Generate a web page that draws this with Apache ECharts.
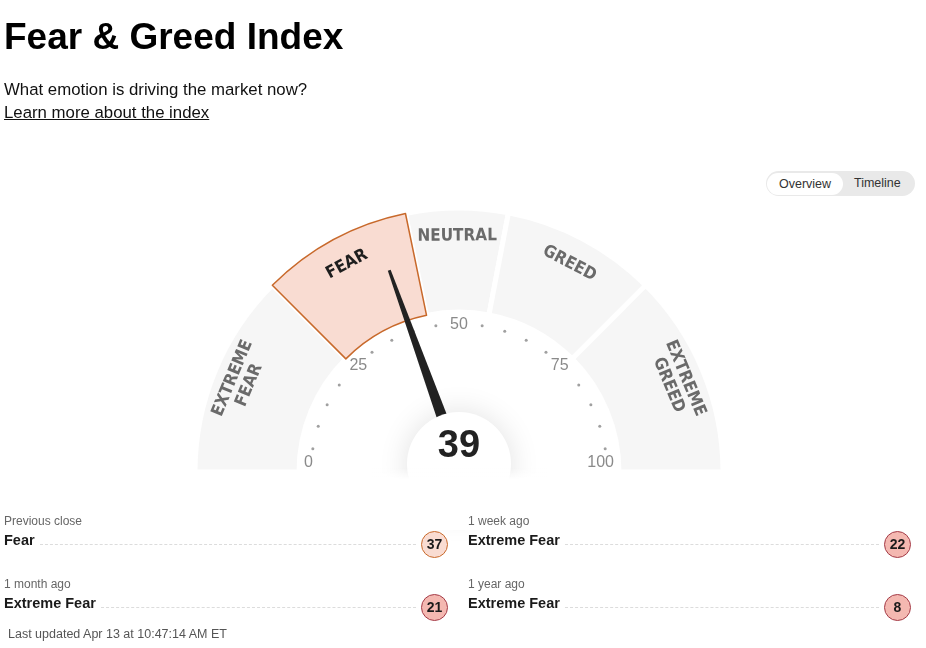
<!DOCTYPE html>
<html><head><meta charset="UTF-8">
<title>Fear & Greed Index</title>
<script src="https://cdn.jsdelivr.net/npm/echarts@6/dist/echarts.min.js"></script>
<style>
  body { margin: 0; background: #fff; font-family: "Liberation Sans", Arial, sans-serif; color: #111; }
  #page { position: relative; width: 926px; height: 648px; overflow: hidden; }
  #g1 { position: absolute; left: 0; top: 0; width: 926px; height: 648px; z-index: 0; }
  #fade { position: absolute; z-index: 1; left: 372px; top: 468px; width: 176px; height: 62px;
          background: linear-gradient(to bottom, rgba(255,255,255,0) 0px, #fff 12px, #fff 100%); }
  .txt { position: absolute; z-index: 2; white-space: nowrap; }
  #title { left: 4px; top: 18px; font-size: 37px; line-height: 37px; font-weight: bold; color: #000; }
  #sub { left: 4px; top: 81px; font-size: 16.8px; line-height: 17px; color: #111; }
  #link { left: 4px; top: 104px; font-size: 16.8px; line-height: 17px; color: #111; text-decoration: underline; }
  #toggle { left: 766px; top: 171px; width: 149px; height: 25px; border-radius: 13px; background: #e9e9e9; font-size: 12.5px; color: #333; }
  #toggle .on { position: absolute; left: 1px; top: 1.5px; width: 76px; height: 22px; border-radius: 11px; background: #fff; line-height: 22px; text-align: center; }
  #toggle .off { position: absolute; left: 88px; top: 0; line-height: 25px; }
  .cell { position: absolute; z-index: 2; width: 444px; height: 50px; }
  .cell .per { font-size: 12px; line-height: 16px; color: #666; height: 18px; }
  .cell .row { display: flex; align-items: flex-start; height: 27px; }
  .cell .rate { font-size: 14.5px; line-height: 18px; font-weight: bold; color: #1a1a1a; }
  .cell .fill { flex: 1; height: 13px; border-bottom: 1px dashed #dcdcdc; margin: 0 5px 0 5px; }
  .cell .badge { width: 27px; height: 27px; box-sizing: border-box; border-radius: 50%; border: 1px solid; text-align: center; line-height: 25px; font-size: 14px; font-weight: bold; color: #1a1a1a; }
  #upd { left: 8px; top: 626px; font-size: 12.5px; line-height: 16px; color: #555; }
</style>
</head>
<body>
<div id="page">
  <div id="g1"></div>
  <div id="fade"></div>
  <div class="txt" id="title">Fear &amp; Greed Index</div>
  <div class="txt" id="sub">What emotion is driving the market now?</div>
  <div class="txt" id="link">Learn more about the index</div>
  <div class="txt" id="toggle"><div class="on">Overview</div><div class="off">Timeline</div></div>
  <div class="txt" id="upd">Last updated Apr 13 at 10:47:14 AM ET</div>
</div>
<script type="text/javascript">
// zones of the index (boundaries)
var zoneNames = ['EXTREME\nFEAR', 'FEAR', 'NEUTRAL', 'GREED', 'EXTREME\nGREED'];
var zoneRatings = ['Extreme Fear', 'Fear', 'Neutral', 'Greed', 'Extreme Greed'];
var zoneBounds = [0, 25, 43.5, 56, 75, 100];
var currentValue = 39;

// scale labels and the small dots between them
var scaleLabels = [0, 25, 50, 75, 100];
var dotValues = [5, 10, 15, 20, 30, 35, 40, 45, 55, 60, 65, 70, 80, 85, 90, 95];

// history rows
var historyPeriods = ['Previous close', '1 week ago', '1 month ago', '1 year ago'];
var historyValues = [37, 22, 21, 8];

var badgeFill = ['#f4b8b1', '#f9dcd2', '#eeeeee', '#d6ecd9', '#b9e0c2'];
var badgeLine = ['#a33a46', '#c8692b', '#999999', '#4b8a5a', '#2d6b3c'];

function zoneOf(v) {
    for (var i = 0; i < zoneNames.length; i++) {
        if (v < zoneBounds[i + 1]) return i;
    }
    return zoneNames.length - 1;
}
var active = zoneOf(currentValue);

// history cells
var page = document.getElementById('page');
historyPeriods.forEach(function (p, i) {
    var z = zoneOf(historyValues[i]);
    var cell = document.createElement('div');
    cell.className = 'cell';
    cell.style.left = (i % 2 == 0 ? 4 : 468) + 'px';
    cell.style.top = (i < 2 ? 513 : 576) + 'px';
    if (i % 2 == 1) cell.style.width = '443px';
    cell.innerHTML = '<div class="per">' + p + '</div><div class="row"><span class="rate">' + zoneRatings[z] +
        '</span><span class="fill"></span><span class="badge" style="background:' + badgeFill[z] +
        ';border-color:' + badgeLine[z] + '">' + historyValues[i] + '</span></div>';
    page.appendChild(cell);
});

var widths = [];
for (var i = 0; i < zoneNames.length; i++) widths.push(zoneBounds[i + 1] - zoneBounds[i]);

var segData = widths.map(function (w, i) {
    return {
        value: w, name: zoneNames[i],
        itemStyle: i == active ? {color: 'transparent', borderWidth: 0}
                               : {color: '#f6f6f6', borderColor: '#fff', borderWidth: 5}
    };
});
segData.push({value: 100, name: 'rest', itemStyle: {color: 'transparent', borderWidth: 0}});

var hiData = widths.map(function (w, i) {
    return {
        value: w, name: zoneNames[i],
        itemStyle: i == active ? {color: '#f9dcd2', borderColor: '#c8692b', borderWidth: 1.5}
                               : {color: 'transparent', borderWidth: 0}
    };
});
hiData.push({value: 100, name: 'rest', itemStyle: {color: 'transparent', borderWidth: 0}});

var labData = widths.map(function (w, i) {
    return {
        value: w, name: zoneNames[i],
        label: {color: i == active ? '#1e1e1e' : '#6a6a6a'}
    };
});
labData.push({value: 100, name: 'rest', label: {show: false}});

var myChart = echarts.init(document.getElementById('g1'));
myChart.setOption({
    animation: false,
    polar: {center: [459, 472], radius: 262},
    angleAxis: {type: 'value', min: 0, max: 200, startAngle: 180, show: false},
    radiusAxis: {type: 'value', min: 0, max: 262, show: false},
    series: [
        {
            type: 'pie', silent: true, z: 1, center: [459, 472], radius: [160, 264],
            startAngle: 180, label: {show: false}, labelLine: {show: false},
            data: segData
        },
        {
            type: 'pie', silent: true, z: 1, center: [459, 472], radius: [160, 264],
            startAngle: 180, label: {show: false}, labelLine: {show: false},
            data: hiData
        },
        {
            type: 'pie', silent: true, z: 2, center: [459, 472], radius: [204, 262],
            startAngle: 180, itemStyle: {color: 'transparent'},
            labelLine: {show: false},
            label: {
                show: true, position: 'inside', rotate: 'tangential',
                formatter: '{b}', fontSize: 17, fontWeight: 'bold', lineHeight: 18,
                fontFamily: '"Liberation Sans Narrow", "DejaVu Sans Condensed", sans-serif'
            },
            data: labData
        },
        {
            type: 'scatter', coordinateSystem: 'polar', silent: true, z: 3,
            symbolSize: 3, itemStyle: {color: '#888'},
            data: dotValues.map(function (v) { return [148, v]; })
        },
        {
            // scale labels
            type: 'gauge', z: 3, silent: true, center: [459, 472], radius: 155,
            startAngle: 180, endAngle: 0, min: 0, max: 100, splitNumber: scaleLabels.length - 1,
            axisLine: {show: false, lineStyle: {width: 0}},
            splitLine: {show: false, length: 0, distance: 0},
            axisTick: {show: false},
            axisLabel: {
                distance: 0, color: '#8a8a8a', fontSize: 16, fontFamily: '"Liberation Sans", Arial',
                formatter: function (v) {
                    if (v == scaleLabels[0] || v == scaleLabels[scaleLabels.length - 1]) return '{e|' + v + '}';
                    if (v == scaleLabels[1] || v == scaleLabels[3]) return '{m|' + v + '}';
                    return v;
                },
                rich: {
                    e: {fontSize: 16, color: '#8a8a8a', padding: [0, 0, 18, 0]},
                    m: {fontSize: 16, color: '#8a8a8a', padding: [7, 0, 0, 0]}
                }
            },
            pointer: {show: false}, anchor: {show: false},
            title: {show: false}, detail: {show: false},
            data: [{value: currentValue}]
        },
        {
            // needle and hub
            type: 'gauge', z: 10, silent: true, center: [459, 464], radius: 150,
            startAngle: 180, endAngle: 0, min: 0, max: 100,
            axisLine: {show: false}, splitLine: {show: false}, axisTick: {show: false}, axisLabel: {show: false},
            pointer: {
                icon: 'path://M5,0 L8,0 L13,100 L0,100 Z',
                length: 206, width: 13, offsetCenter: [0, 0],
                itemStyle: {color: '#222'}
            },
            anchor: {
                show: true, showAbove: true, size: 104,
                itemStyle: {color: '#fff', shadowBlur: 30, shadowColor: 'rgba(0,0,0,0.12)'}
            },
            title: {show: false}, detail: {show: false},
            data: [{value: currentValue}]
        },
        {
            // value in the hub
            type: 'gauge', z: 30, silent: true, center: [459, 464], radius: 150,
            startAngle: 180, endAngle: 0, min: 0, max: 100,
            axisLine: {show: false}, splitLine: {show: false}, axisTick: {show: false}, axisLabel: {show: false},
            pointer: {show: false}, anchor: {show: false}, title: {show: false},
            detail: {
                offsetCenter: [0, -17], fontSize: 38, fontWeight: 'bold', color: '#222',
                fontFamily: '"Liberation Sans", Arial', formatter: '{value}'
            },
            data: [{value: currentValue}]
        }
    ]
});
</script>
</body></html>
